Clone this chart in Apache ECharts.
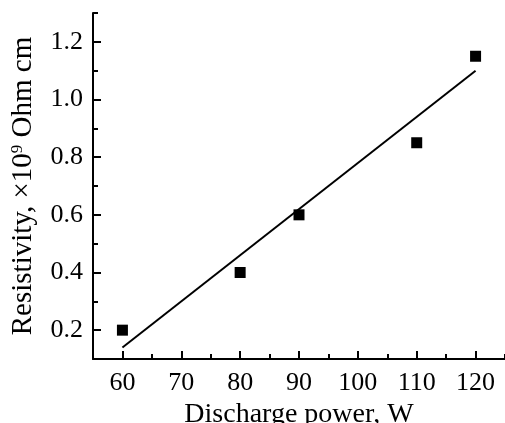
<!DOCTYPE html>
<html>
<head>
<meta charset="utf-8">
<script src="https://cdn.jsdelivr.net/npm/echarts@6/dist/echarts.min.js"></script>
<style>
  html, body { margin: 0; padding: 0; background: #fff; }
  #chart { width: 505px; height: 423px; }
</style>
</head>
<body>
<div id="chart"></div>
<script>
// Measured resistivity vs. discharge power
const power = [60, 80, 90, 110, 120];
const resistivity = [0.2, 0.4, 0.6, 0.85, 1.15];

// Linear fit endpoints
const fitPower = [60, 120];
const fitResistivity = [0.14, 1.10];

// Axis ticks
const xTicks = [60, 70, 80, 90, 100, 110, 120];
const xMinorTicks = [55, 65, 75, 85, 95, 105, 115, 125];
const yTicks = [0.2, 0.4, 0.6, 0.8, 1.0, 1.2];
const yMinorTicks = [0.1, 0.3, 0.5, 0.7, 0.9, 1.1, 1.3];

const FONT = 'Liberation Serif';
const INK = '#000';

const chart = echarts.init(document.getElementById('chart'), null, { renderer: 'canvas' });

const baseX = { type: 'value', min: 55, max: 125 };
const baseY = { type: 'value', min: 0.1, max: 1.3 };

chart.setOption({
  animation: false,
  backgroundColor: '#fff',
  grid: { left: 93, right: 0, top: 13, bottom: 64, containLabel: false, outerBoundsMode: 'none' },
  xAxis: [
    Object.assign({}, baseX, {
      position: 'bottom',
      name: 'Discharge power, W',
      nameLocation: 'middle',
      nameGap: 39,
      nameTextStyle: { fontFamily: FONT, fontSize: 28, color: INK },
      axisLine: { show: true, onZero: false, lineStyle: { color: INK, width: 2 } },
      axisTick: { show: true, inside: true, length: 8, customValues: xTicks, lineStyle: { color: INK, width: 2 } },
      axisLabel: { show: true, customValues: xTicks, margin: 11, fontFamily: FONT, fontSize: 26, color: INK },
      splitLine: { show: false }
    }),
    Object.assign({}, baseX, {
      position: 'bottom',
      axisLine: { show: false, onZero: false },
      axisTick: { show: true, inside: true, length: 5, customValues: xMinorTicks, lineStyle: { color: INK, width: 2 } },
      axisLabel: { show: false },
      splitLine: { show: false }
    })
  ],
  yAxis: [
    Object.assign({}, baseY, {
      position: 'left',
      name: '{t|Resistivity, ×10}{sup|9}{t| Ohm cm}',
      nameLocation: 'middle',
      nameGap: 55,
      nameTextStyle: {
        fontFamily: FONT, fontSize: 29, color: INK,
        rich: {
          t: { fontFamily: FONT, fontSize: 29, color: INK },
          sup: { fontFamily: FONT, fontSize: 17, color: INK, verticalAlign: 'top' }
        }
      },
      axisLine: { show: true, onZero: false, lineStyle: { color: INK, width: 2 } },
      axisTick: { show: true, inside: true, length: 8, customValues: yTicks, lineStyle: { color: INK, width: 2 } },
      axisLabel: {
        show: true, customValues: yTicks, margin: 10,
        fontFamily: FONT, fontSize: 26, color: INK,
        formatter: v => v.toFixed(1)
      },
      splitLine: { show: false }
    }),
    Object.assign({}, baseY, {
      position: 'left',
      axisLine: { show: false, onZero: false },
      axisTick: { show: true, inside: true, length: 5, customValues: yMinorTicks, lineStyle: { color: INK, width: 2 } },
      axisLabel: { show: false },
      splitLine: { show: false }
    })
  ],
  series: [
    {
      type: 'line',
      xAxisIndex: 0, yAxisIndex: 0,
      data: fitPower.map((p, i) => [p, fitResistivity[i]]),
      showSymbol: false,
      symbol: 'none',
      lineStyle: { color: INK, width: 2 },
      z: 2
    },
    {
      type: 'scatter',
      xAxisIndex: 0, yAxisIndex: 0,
      data: power.map((p, i) => [p, resistivity[i]]),
      symbol: 'rect',
      symbolSize: 11,
      itemStyle: { color: INK, opacity: 1 },
      z: 3
    }
  ]
});
</script>
</body>
</html>
